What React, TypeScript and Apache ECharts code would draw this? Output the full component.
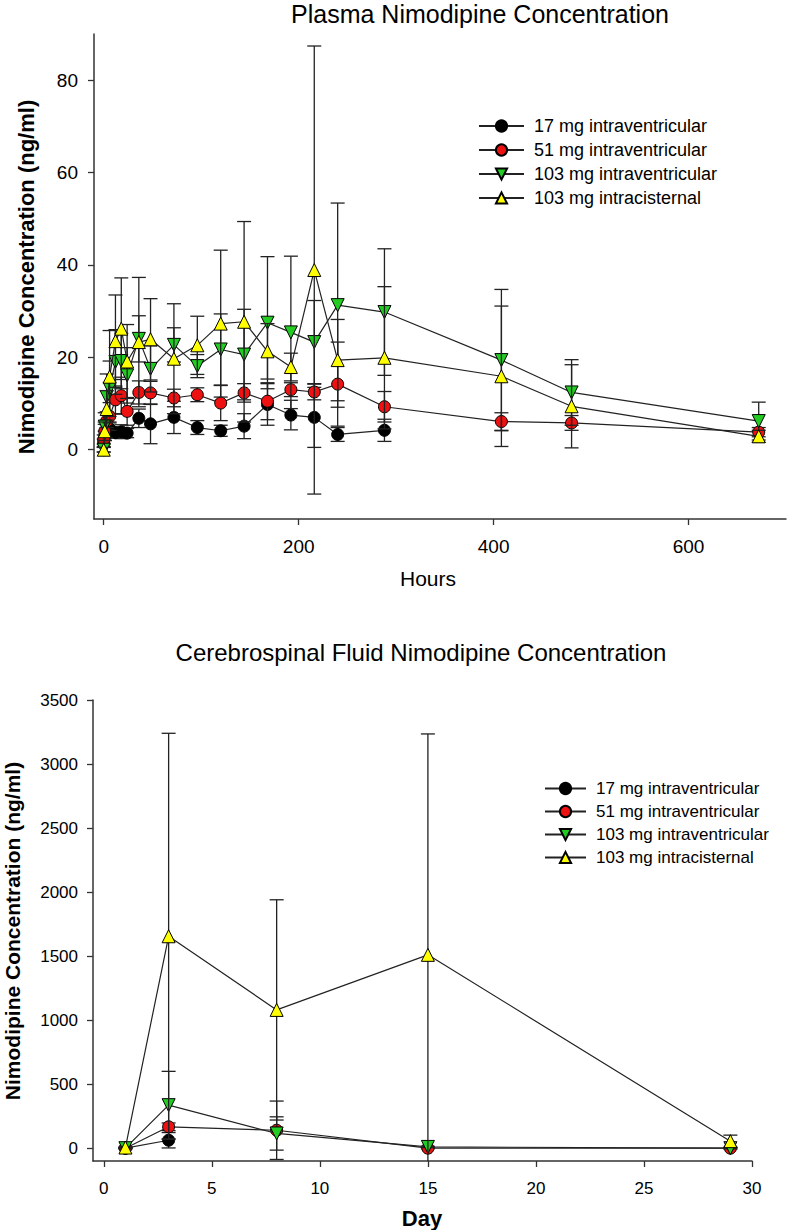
import React, { useEffect, useRef } from "react";
import * as echarts from "echarts";

// ---------- Plasma data (hours) ----------
const hours = [0, 1, 3, 6, 12, 18, 24, 36, 48, 72, 96, 120, 144, 168, 192, 216, 240, 288, 408, 480, 672];
const plasma17 = [1.5, 3.0, 4.2, 4.5, 3.7, 3.9, 3.6, 6.8, 5.6, 7.0, 4.8, 4.1, 5.1, 9.8, 7.5, 7.0, 3.3, 4.2, null, null, null];
const plasma17Sd = [0.8, 1.0, 1.2, 1.5, 1.2, 1.5, 1.0, 2.0, 4.3, 3.5, 1.5, 1.2, 2.7, 4.5, 3.2, 6.5, 1.5, 2.4, null, null, null];
const plasma51 = [2.2, 4.0, 6.2, 7.2, 10.8, 11.7, 8.3, 12.4, 12.3, 11.2, 11.9, 10.1, 12.3, 10.5, 13.0, 12.5, 14.2, 9.3, 6.1, 5.8, 3.8];
const plasma51Sd = [1.0, 1.5, 2.0, 3.0, 3.0, 4.0, 3.0, 2.5, 2.5, 1.9, 1.5, 3.8, 2.0, 4.0, 1.5, 1.7, 9.1, 3.3, 1.9, 1.6, 1.0];
const plasma103iv = [0, 5.0, 11.4, 13.2, 19.0, 19.2, 16.1, 24.0, 17.5, 22.7, 18.1, 21.7, 20.6, 27.5, 25.4, 23.3, 31.3, 29.8, 19.4, 12.4, 6.2];
const plasma103ivSd = [0.5, 3, 5, 6, 7, 6, 6, 5, 5, 3.7, 2.5, 7.7, 9.8, 14.3, 16.5, 9.0, 22.1, 13.7, 15.3, 7.1, 4.1];
const plasma103ic = [0, 4.0, 8.8, 15.8, 23.5, 26.2, 19.1, 23.3, 23.9, 19.7, 22.6, 27.3, 27.7, 21.3, 17.9, 38.9, 19.4, 19.9, 15.9, 9.4, 2.9];
const plasma103icSd = [0.5, 2, 4, 10, 10, 11, 8, 14, 8.8, 11.9, 6.3, 15.9, 21.7, 6, 3, 48.5, 8.8, 15.4, 15.2, 9.0, 1.3];
const hourTicks = [0, 200, 400, 600];
const plasmaTicks = [0, 20, 40, 60, 80];

// ---------- CSF data (days) ----------
const days = [1, 3, 8, 15, 29];
const csf17 = [0, 62, null, null, null];
const csf17Sd = [2, 60, null, null, null];
const csf51 = [0, 167, 140, 0, 0];
const csf51Sd = [5, 30, 228, 5, 5];
const csf103iv = [0, 336, 115, 10, 0];
const csf103ivSd = [5, 264, 130, 5, 5];
const csf103ic = [5, 1655, 1080, 1510, 55];
const csf103icSd = [5, 1585, 860, 1725, 47];
const dayTicks = [0, 5, 10, 15, 20, 25, 30];
const csfTicks = [0, 500, 1000, 1500, 2000, 2500, 3000, 3500];

const seriesNames = ["17 mg intraventricular", "51 mg intraventricular", "103 mg intraventricular", "103 mg intracisternal"];
const FONT = "'Liberation Sans', Arial, Helvetica, sans-serif";
const INK = "#222";

type Num = number | null;

function errorSeries(xs: number[], ys: Num[], sds: Num[], yMin: number, z: number) {
  const data: number[][] = [];
  xs.forEach((x, i) => {
    const y = ys[i];
    const s = sds[i];
    if (y == null || s == null) return;
    data.push([x, y - s, y + s]);
  });
  return {
    type: "custom",
    silent: true,
    z,
    data,
    encode: { x: 0, y: [1, 2] },
    renderItem: (_params: any, api: any) => {
      const x = api.value(0);
      const lo = api.value(1);
      const hi = api.value(2);
      const top = api.coord([x, hi]);
      const bot = api.coord([x, Math.max(lo, yMin)]);
      const w = 7;
      const st = { stroke: INK, lineWidth: 1.3 };
      const children: any[] = [
        { type: "line", shape: { x1: top[0], y1: top[1], x2: bot[0], y2: bot[1] }, style: st },
        { type: "line", shape: { x1: top[0] - w, y1: top[1], x2: top[0] + w, y2: top[1] }, style: st },
      ];
      if (lo >= yMin) {
        children.push({ type: "line", shape: { x1: bot[0] - w, y1: bot[1], x2: bot[0] + w, y2: bot[1] }, style: st });
      }
      return { type: "group", children };
    },
  };
}

function lineSeries(name: string, xs: number[], ys: Num[], color: string, symbol: string, rotate: number, size: number, z: number) {
  const data: number[][] = [];
  xs.forEach((x, i) => {
    const y = ys[i];
    if (y != null) data.push([x, y]);
  });
  return {
    type: "line",
    name,
    data,
    z,
    symbol,
    symbolRotate: rotate,
    symbolSize: size,
    showAllSymbol: true,
    lineStyle: { color: INK, width: 1.2 },
    itemStyle: { color, borderColor: "#000", borderWidth: 1 },
    emphasis: { disabled: true },
  };
}

function axisCommon(ticks: number[], fontSize: number, margin: number) {
  return {
    type: "value",
    axisLine: { show: true, onZero: false, lineStyle: { color: "#333", width: 1.5 } },
    axisTick: { show: true, length: 6, inside: false, customValues: ticks, lineStyle: { color: "#333", width: 1.3 } },
    axisLabel: {
      customValues: ticks,
      fontSize,
      color: "#000",
      fontFamily: FONT,
      margin,
      formatter: (v: number) => String(v),
    },
    splitLine: { show: false },
  };
}

const COLORS = ["#000000", "#ee1111", "#22cc22", "#ffff00"];

function plasmaOption(): any {
  const yMin = -15;
  return {
    animation: false,
    textStyle: { fontFamily: FONT },
    grid: { left: 94, top: 34, width: 692, height: 485, containLabel: false },
    xAxis: { ...axisCommon(hourTicks, 19, 18), min: -10, max: 700 },
    yAxis: { ...axisCommon(plasmaTicks, 19, 16), min: yMin, max: 90 },
    legend: {
      orient: "vertical",
      left: 473,
      top: 112,
      itemWidth: 45,
      itemHeight: 14,
      itemGap: 6,
      data: seriesNames,
      textStyle: { fontSize: 18, color: "#000", fontFamily: FONT, lineHeight: 18, padding: [0, 0, 0, 5] },
    },
    graphic: [
      { type: "text", x: 480, y: 14, style: { text: "Plasma Nimodipine Concentration", fontSize: 25, fontFamily: FONT, fill: "#000", align: "center", verticalAlign: "middle" } },
      { type: "text", x: 428, y: 578, style: { text: "Hours", fontSize: 21, fontFamily: FONT, fill: "#000", align: "center", verticalAlign: "middle" } },
      { type: "text", x: 26, y: 277, rotation: Math.PI / 2, style: { text: "Nimodipine Concentration (ng/ml)", fontSize: 22, fontWeight: "bold", fontFamily: FONT, fill: "#000", align: "center", verticalAlign: "middle" } },
    ],
    series: [
      errorSeries(hours, plasma17, plasma17Sd, yMin, 1),
      lineSeries(seriesNames[0], hours, plasma17, COLORS[0], "circle", 0, 12, 2),
      errorSeries(hours, plasma51, plasma51Sd, yMin, 3),
      lineSeries(seriesNames[1], hours, plasma51, COLORS[1], "circle", 0, 12, 4),
      errorSeries(hours, plasma103iv, plasma103ivSd, yMin, 5),
      lineSeries(seriesNames[2], hours, plasma103iv, COLORS[2], "triangle", 180, 13, 6),
      errorSeries(hours, plasma103ic, plasma103icSd, yMin, 7),
      lineSeries(seriesNames[3], hours, plasma103ic, COLORS[3], "triangle", 0, 13, 8),
    ],
  };
}

function csfOption(): any {
  const yMin = -100;
  return {
    animation: false,
    textStyle: { fontFamily: FONT },
    grid: { left: 93, top: 100, width: 659, height: 461, containLabel: false },
    xAxis: { ...axisCommon(dayTicks, 17, 19), min: -0.5, max: 30 },
    yAxis: { ...axisCommon(csfTicks, 17, 15), min: yMin, max: 3500 },
    legend: {
      orient: "vertical",
      left: 539,
      top: 175,
      itemWidth: 41,
      itemHeight: 14,
      itemGap: 6,
      data: seriesNames,
      textStyle: { fontSize: 17, color: "#000", fontFamily: FONT, lineHeight: 17, padding: [0, 0, 0, 5] },
    },
    graphic: [
      { type: "text", x: 421, y: 52, style: { text: "Cerebrospinal Fluid Nimodipine Concentration", fontSize: 24, fontFamily: FONT, fill: "#000", align: "center", verticalAlign: "middle" } },
      { type: "text", x: 422, y: 618, style: { text: "Day", fontSize: 22, fontWeight: "bold", fontFamily: FONT, fill: "#000", align: "center", verticalAlign: "middle" } },
      { type: "text", x: 12, y: 331, rotation: Math.PI / 2, style: { text: "Nimodipine Concentration (ng/ml)", fontSize: 21, fontWeight: "bold", fontFamily: FONT, fill: "#000", align: "center", verticalAlign: "middle" } },
    ],
    series: [
      errorSeries(days, csf17, csf17Sd, yMin, 1),
      lineSeries(seriesNames[0], days, csf17, COLORS[0], "circle", 0, 12, 2),
      errorSeries(days, csf51, csf51Sd, yMin, 3),
      lineSeries(seriesNames[1], days, csf51, COLORS[1], "circle", 0, 12, 4),
      errorSeries(days, csf103iv, csf103ivSd, yMin, 5),
      lineSeries(seriesNames[2], days, csf103iv, COLORS[2], "triangle", 180, 13, 6),
      errorSeries(days, csf103ic, csf103icSd, yMin, 7),
      lineSeries(seriesNames[3], days, csf103ic, COLORS[3], "triangle", 0, 13, 8),
    ],
  };
}

function Chart({ option, top, height }: { option: () => any; top: number; height: number }) {
  const ref = useRef<HTMLDivElement>(null);
  useEffect(() => {
    if (!ref.current) return;
    const chart = echarts.init(ref.current, null, { renderer: "svg" });
    chart.setOption(option());
    return () => chart.dispose();
  }, [option]);
  return <div ref={ref} style={{ position: "absolute", left: 0, top, width: 788, height }} />;
}

export default function App() {
  return (
    <div style={{ position: "absolute", left: 0, top: 0, width: 788, height: 1230, background: "#fff" }}>
      <Chart option={plasmaOption} top={0} height={600} />
      <Chart option={csfOption} top={600} height={630} />
    </div>
  );
}
